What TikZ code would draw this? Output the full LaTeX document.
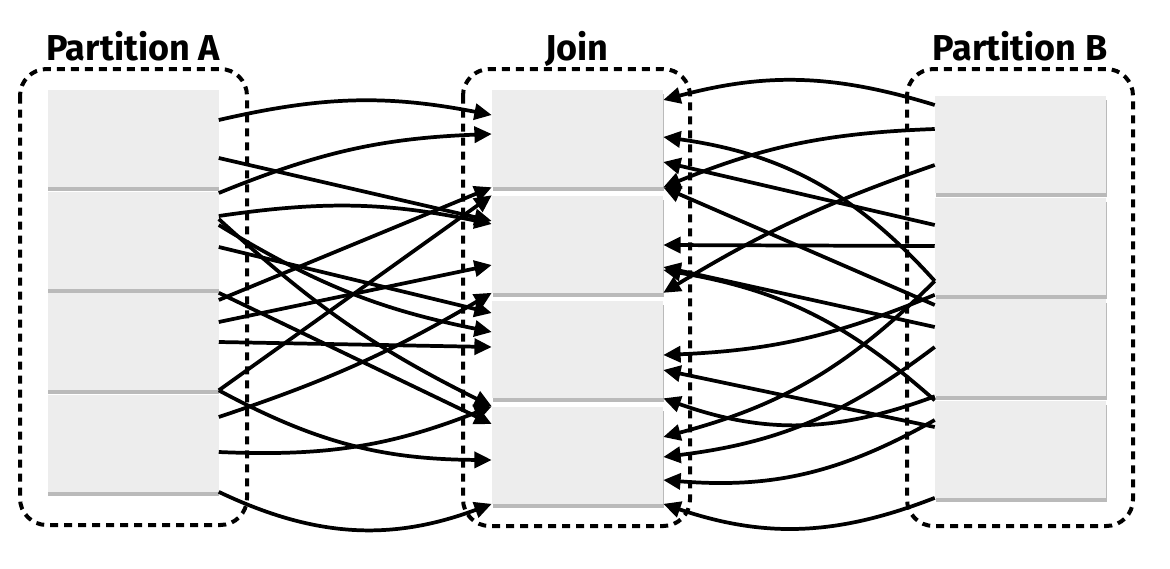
\documentclass[tikz,border=0pt]{standalone}
\usepackage{fontspec}
\setmainfont{Fira Sans}
\usetikzlibrary{arrows.meta,positioning,shadows}

\begin{document}
\begin{tikzpicture}[x=0.75pt, y=0.75pt,
    part/.style={rectangle, fill=black!7, inner sep=0pt,
        minimum width=128.25pt, minimum height=72.75pt,
        drop shadow={shadow xshift=0.6pt, shadow yshift=-3pt, opacity=0.6, fill=black!45}},
    group/.style={draw, line width=3pt, dash pattern=on 6pt off 4.5pt, rounded corners=20pt},
    title/.style={font=\bfseries\fontsize{27}{30}\selectfont, anchor=base},
    flow/.style={draw, line width=2.8pt, -{Triangle[length=13pt, width=12pt]}}]
    \useasboundingbox (0,0) rectangle (1170,-568);

    % titles and dashed groups
    \node[title] (tA) at (133,-60) {Partition A};
    \node[title] (tJ) at (577,-60) {Join};
    \node[title] (tB) at (1020,-60) {Partition B};
    \draw[group] (20,-69) rectangle (247,-525);
    \draw[group] (463,-69) rectangle (690,-526);
    \draw[group] (907,-69) rectangle (1133,-526);

    % partitions
    \node[part] (a1) at (133,-138.5) {};
    \node[part] (a2) [below=3pt of a1] {};
    \node[part] (a3) [below=3pt of a2] {};
    \node[part] (a4) [below=3pt of a3] {};
    \node[part] (j1) at (577.5,-138.5) {};
    \node[part] (j2) [below=6pt of j1] {};
    \node[part] (j3) [below=6pt of j2] {};
    \node[part] (j4) [below=6pt of j3] {};
    \node[part] (b1) at (1020.5,-144.5) {};
    \node[part] (b2) [below=3pt of b1] {};
    \node[part] (b3) [below=3pt of b2] {};
    \node[part] (b4) [below=3pt of b3] {};

    % A -> Join
    \path[flow] (a1.east |- 0,-120) to[bend left=12] (j1.west |- 0,-115);
    \path[flow] (a1.east |- 0,-158) -- (j2.west |- 0,-221);
    \path[flow] (a2.east |- 0,-193) to[bend left=10] (j1.west |- 0,-134);
    \path[flow] (a2.east |- 0,-216) to[bend left=10] (j2.west |- 0,-224);
    \path[flow] (a2.east |- 0,-219) to[bend right=8] (j4.north west);
    \path[flow] (a2.east |- 0,-225) to[bend right=10] (j3.west |- 0,-332);
    \path[flow] (a2.east |- 0,-247) -- (j3.west |- 0,-313);
    \path[flow] (a3.north east) -- (j4.west |- 0,-424);
    \path[flow] (a3.east |- 0,-300) -- (j1.south west);
    \path[flow] (a3.east |- 0,-322) -- (j2.west |- 0,-265);
    \path[flow] (a3.east |- 0,-342) -- (j3.west |- 0,-347);
    \path[flow] (a3.south east) -- (j2.north west);
    \path[flow] (a3.south east) to[bend right=14] (j4.west |- 0,-460);
    \path[flow] (a4.east |- 0,-417) to[bend right=6] (j2.south west);
    \path[flow] (a4.east |- 0,-452) to[bend right=12] (j4.north west);
    \path[flow] (a4.south east) to[bend right=23] (j4.south west);

    % B -> Join
    \path[flow] (b1.west |- 0,-105) to[bend right=16] (j1.east |- 0,-100);
    \path[flow] (b1.west |- 0,-129) to[bend right=10] (j1.south east);
    \path[flow] (b1.west |- 0,-165) to[bend right=6] (j2.south east);
    \path[flow] (b2.west |- 0,-225) -- (j1.east |- 0,-162);
    \path[flow] (b2.west |- 0,-246) -- (j2.east |- 0,-245);
    \path[flow] (b2.west |- 0,-281) to[bend right=20] (j1.east |- 0,-137);
    \path[flow] (b2.west |- 0,-281) to[bend left=15] (j4.east |- 0,-437);
    \path[flow] (b3.west |- 0,-305) -- (j1.south east);
    \path[flow] (b2.south west) to[bend left=10] (j3.east |- 0,-355);
    \path[flow] (b3.west |- 0,-327) -- (j2.east |- 0,-267);
    \path[flow] (b4.north west) to[bend right=16] (j2.east |- 0,-270);
    \path[flow] (b3.west |- 0,-347) to[bend left=15] (j4.east |- 0,-457);
    \path[flow] (b3.south west) to[bend left=20] (j3.south east);
    \path[flow] (b4.west |- 0,-420) to[bend left=17] (j4.east |- 0,-480);
    \path[flow] (b4.west |- 0,-427) -- (j3.east |- 0,-370);
    \path[flow] (b4.south west) to[bend left=20] (j4.south east);
\end{tikzpicture}
\end{document}
